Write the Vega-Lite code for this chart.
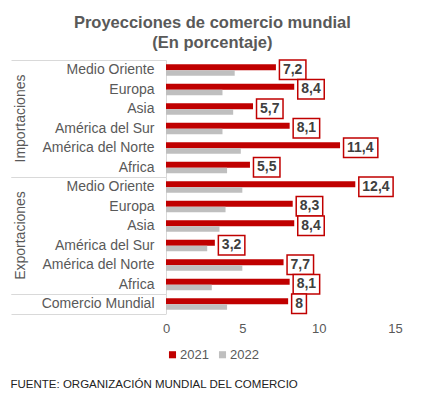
{
  "$schema": "https://vega.github.io/schema/vega-lite/v6.json",
  "padding": {"left": 10, "top": 14, "right": 5, "bottom": 5},
  "title": {"text": "FUENTE: ORGANIZACIÓN MUNDIAL DEL COMERCIO", "orient": "bottom", "anchor": "start", "fontSize": 11.5, "fontWeight": "normal", "font": "Liberation Sans", "color": "#222222", "offset": 17},
  "config": {
    "locale": {"number": {"decimal": ",", "thousands": ".", "grouping": [3], "currency": ["", " €"]}},
    "font": "Liberation Sans",
    "view": {"stroke": null},
    "facet": {"spacing": 0},
    "concat": {"spacing": 0}
  },
  "data": {"values": [
    {"grupo": "Importaciones", "region": "Medio Oriente", "year": "2021", "value": 7.2},
    {"grupo": "Importaciones", "region": "Medio Oriente", "year": "2022", "value": 4.5},
    {"grupo": "Importaciones", "region": "Europa", "year": "2021", "value": 8.4},
    {"grupo": "Importaciones", "region": "Europa", "year": "2022", "value": 3.7},
    {"grupo": "Importaciones", "region": "Asia", "year": "2021", "value": 5.7},
    {"grupo": "Importaciones", "region": "Asia", "year": "2022", "value": 4.4},
    {"grupo": "Importaciones", "region": "América del Sur", "year": "2021", "value": 8.1},
    {"grupo": "Importaciones", "region": "América del Sur", "year": "2022", "value": 3.7},
    {"grupo": "Importaciones", "region": "América del Norte", "year": "2021", "value": 11.4},
    {"grupo": "Importaciones", "region": "América del Norte", "year": "2022", "value": 4.9},
    {"grupo": "Importaciones", "region": "Africa", "year": "2021", "value": 5.5},
    {"grupo": "Importaciones", "region": "Africa", "year": "2022", "value": 4.0},
    {"grupo": "Exportaciones", "region": "Medio Oriente", "year": "2021", "value": 12.4},
    {"grupo": "Exportaciones", "region": "Medio Oriente", "year": "2022", "value": 5.0},
    {"grupo": "Exportaciones", "region": "Europa", "year": "2021", "value": 8.3},
    {"grupo": "Exportaciones", "region": "Europa", "year": "2022", "value": 3.9},
    {"grupo": "Exportaciones", "region": "Asia", "year": "2021", "value": 8.4},
    {"grupo": "Exportaciones", "region": "Asia", "year": "2022", "value": 3.5},
    {"grupo": "Exportaciones", "region": "América del Sur", "year": "2021", "value": 3.2},
    {"grupo": "Exportaciones", "region": "América del Sur", "year": "2022", "value": 2.7},
    {"grupo": "Exportaciones", "region": "América del Norte", "year": "2021", "value": 7.7},
    {"grupo": "Exportaciones", "region": "América del Norte", "year": "2022", "value": 5.0},
    {"grupo": "Exportaciones", "region": "Africa", "year": "2021", "value": 8.1},
    {"grupo": "Exportaciones", "region": "Africa", "year": "2022", "value": 3.0},
    {"grupo": "Total", "region": "Comercio Mundial", "year": "2021", "value": 8.0},
    {"grupo": "Total", "region": "Comercio Mundial", "year": "2022", "value": 4.0}
  ]},
  "vconcat": [{
    "title": {"text": ["Proyecciones  de comercio  mundial", "(En porcentaje)"], "fontSize": 16.5, "fontWeight": "bold", "color": "#595959", "anchor": "middle", "lineHeight": 20, "offset": 2, "dx": 6},
    "facet": {"row": {"field": "grupo", "type": "nominal", "sort": ["Importaciones", "Exportaciones", "Total"],
      "header": {"title": null, "labelAngle": -90, "labelOrient": "left", "labelFontSize": 14, "labelColor": "#595959", "labelFont": "Liberation Sans", "labelExpr": "datum.value === 'Total' ? '' : datum.value", "labelPadding": 131}}},
    "spacing": 0,
    "bounds": "flush",
    "resolve": {"scale": {"y": "independent"}},
    "spec": {
      "width": 229,
      "height": {"step": 19.5},
      "layer": [
        {
          "transform": [{"filter": "datum.year === '2021'"}],
          "mark": {"type": "bar", "height": 6, "yOffset": -2.5},
          "encoding": {
            "y": {"field": "region", "type": "nominal", "sort": null, "scale": {"paddingInner": 0, "paddingOuter": 0},
              "axis": {"title": null, "domainColor": "#d9d9d9", "tickBand": "extent", "tickSize": 155,
                "tickColor": {"condition": {"test": "datum.extra || datum.value === 'Africa' || datum.value === 'Comercio Mundial'", "value": "#d9d9d9"}, "value": "transparent"},
                "labelPadding": -143, "labelFontSize": 14, "labelColor": "#595959"}},
            "x": {"field": "value", "type": "quantitative", "stack": null, "scale": {"domain": [0, 15], "nice": false},
              "axis": {"title": null, "values": [0, 5, 10, 15], "domain": false, "ticks": false, "grid": false, "labelFlush": false, "labelFontSize": 13, "labelColor": "#595959", "labelPadding": 8}},
            "color": {"field": "year", "type": "nominal", "scale": {"domain": ["2021", "2022"], "range": ["#c00000", "#bfbfbf"]},
              "legend": {"title": null, "orient": "bottom", "offset": 13, "direction": "horizontal", "symbolType": "square", "symbolSize": 50, "labelFontSize": 13, "labelColor": "#595959", "columnPadding": 7, "labelOffset": 1, "symbolStrokeWidth": 0}}
          }
        },
        {
          "transform": [{"filter": "datum.year === '2022'"}],
          "mark": {"type": "bar", "height": 5.5, "yOffset": 3.3},
          "encoding": {
            "y": {"field": "region", "type": "nominal", "sort": null},
            "x": {"field": "value", "type": "quantitative", "stack": null},
            "color": {"field": "year", "type": "nominal"}
          }
        },
        {
          "transform": [{"filter": "datum.year === '2021'"}],
          "mark": {"type": "rect", "fill": "white", "stroke": "#c00000", "strokeWidth": 1.5, "xOffset": 3.5,
            "x2Offset": {"expr": "3.5 + 7.8*length(format(datum.value, '')) - (length(format(datum.value, '')) > 1 ? 3.9 : 0) + 7"}},
          "encoding": {
            "y": {"field": "region", "type": "nominal", "sort": null},
            "x": {"field": "value", "type": "quantitative"},
            "x2": {"field": "value"}
          }
        },
        {
          "transform": [{"filter": "datum.year === '2021'"}],
          "mark": {"type": "text", "align": "left", "dx": 7, "fontWeight": "bold", "fontSize": 14, "color": "#404040"},
          "encoding": {
            "y": {"field": "region", "type": "nominal", "sort": null},
            "x": {"field": "value", "type": "quantitative"},
            "text": {"field": "value", "type": "quantitative"}
          }
        }
      ]
    }
  }]
}
